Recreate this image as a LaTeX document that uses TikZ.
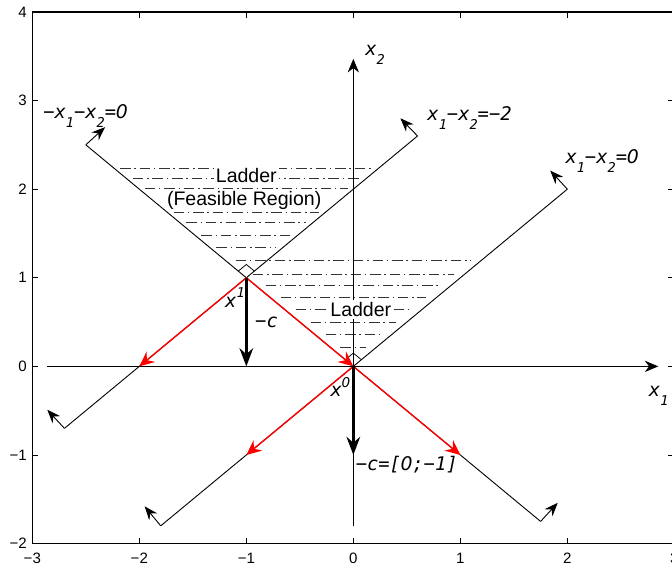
\documentclass[tikz,border=0pt]{standalone}
\usepackage{fontspec}
\setmainfont{Liberation Sans}
\newfontfamily\labfont{DejaVu Sans Mono}
\newfontfamily\zerofont{DejaVu Sans}
\usetikzlibrary{arrows.meta}
\newcommand{\lsub}[1]{\raisebox{-0.5em}{\fontsize{9}{9}\selectfont #1}}
\newcommand{\lsup}[1]{\raisebox{0.5em}{\fontsize{9}{9}\selectfont #1}}
\newcommand{\lzero}{\makebox[0.602em]{\zerofont\itshape 0}}

\begin{document}
\begin{tikzpicture}[x=2.5cm, y=2.07cm,
    lab/.style={font=\labfont\itshape\fontsize{12.5}{13}\selectfont, inner sep=0pt},
    txt/.style={font=\fontsize{13}{15}\selectfont, fill=white, inner sep=1.5pt},
    ticklab/.style={font=\fontsize{10}{12}\selectfont, inner sep=0pt},
    hatch/.style={line width=0.45pt, black!80, dash pattern=on 7pt off 2.5pt on 1pt off 2.5pt},
    cline/.style={line width=0.6pt},
    nrm/.style={line width=0.6pt, -{Stealth[length=9pt,width=7pt,inset=3pt]}},
    redarr/.style={line width=0.9pt, red, -{Stealth[length=10pt,width=9pt,inset=3.5pt]}},
    grad/.style={line width=2pt, -{Stealth[length=12pt,width=9pt]}},
    ax/.style={line width=0.5pt, -{Stealth[length=9pt,width=7.5pt]}}]
    \useasboundingbox (-3.302,-2.245) rectangle (2.978,4.135);

    \coordinate (x1) at (-1,1);
    \coordinate (x0) at (0,0);
    \coordinate (a1) at (-2.5,2.5);
    \coordinate (a2) at (1.75,-1.75);
    \coordinate (b1) at (-2.7,-0.7);
    \coordinate (b2) at (0.6,2.6);
    \coordinate (c1) at (-1.8,-1.8);
    \coordinate (c2) at (2,2);
    \coordinate (a1n) at (-2.32,2.7);
    \coordinate (a2n) at (1.91,-1.54);
    \coordinate (b1n) at (-2.86,-0.49);
    \coordinate (b2n) at (0.44,2.8);
    \coordinate (c1n) at (-1.95,-1.58);
    \coordinate (c2n) at (1.84,2.21);
    \coordinate (r1) at (-2,0);
    \coordinate (r2) at (-1,-1);
    \coordinate (r3) at (1,-1);
    \coordinate (d1) at (-1,0);
    \coordinate (d0) at (0,-1);
    \coordinate (h1) at (-2.86,0);
    \coordinate (h2) at (2.85,0);
    \coordinate (v1) at (0,-1.8);
    \coordinate (v2) at (0,3.47);

    % axes box and ticks
    \foreach \i/\t [count=\k] in {-3/−3,-2/−2,-1/−1,0/0,1/1,2/2,3/3} {
        \draw[line width=0.5pt] (\i,-2) -- ++(0,0.068);
        \draw[line width=0.5pt] (\i,4) -- ++(0,-0.068);
        \node[ticklab, anchor=north, yshift=-6.3pt] (tx\k) at (\i,-2) {\t};
    }
    \foreach \j/\t [count=\k] in {-2/−2,-1/−1,0/0,1/1,2/2,3/3,4/4} {
        \draw[line width=0.5pt] (-3,\j) -- ++(0.056,0);
        \draw[line width=0.5pt] (3,\j) -- ++(-0.056,0);
        \node[ticklab, anchor=east, xshift=-3.5pt] (ty\k) at (-3,\j) {\t};
    }
    \draw[line width=1pt] (-3,-2) rectangle (3,4);

    % ladder hatching
    \foreach \h in {0.22,0.36,0.5,0.64,0.78,0.92,1.04,1.2}
        \draw[hatch] ({-\h+0.1},\h) -- ({\h-0.1},\h);
    \foreach \h in {1.34,1.48,1.62,1.74,2.01,2.12,2.24}
        \draw[hatch] ({-\h+0.06},\h) -- ({\h-2.06},\h);

    \draw[ax] (h1) -- (h2);
    \draw[ax] (v1) -- (v2);

    \node[txt, anchor=base] (lad1) at (-1,2.075) {Ladder};
    \node[txt, anchor=base, inner sep=0.5pt] (feas) at (-1.02,1.82) {(Feasible Region)};
    \node[txt, anchor=base] (lad2) at (0.07,0.567) {Ladder};

    % constraint lines with normals
    \draw[cline] (a1) -- (a2);
    \draw[cline] (b1) -- (b2);
    \draw[cline] (c1) -- (c2);
    \draw[nrm] (a1) -- (a1n);
    \draw[nrm] (a2) -- (a2n);
    \draw[nrm] (b1) -- (b1n);
    \draw[nrm] (b2) -- (b2n);
    \draw[nrm] (c1) -- (c1n);
    \draw[nrm] (c2) -- (c2n);

    \draw[line width=0.5pt] (x1) ++(0.075,0.075) -- ++(-0.075,0.075) -- ++(-0.075,-0.075);
    \draw[line width=0.5pt] (x0) ++(0.075,0.075) -- ++(-0.075,0.075) -- ++(-0.075,-0.075);

    \draw[redarr] (x1) -- (r1);
    \draw[redarr] (x1) -- (x0);
    \draw[redarr] (x0) -- (r2);
    \draw[redarr] (x0) -- (r3);
    \draw[grad] (x1) -- (d1);
    \draw[grad] (x0) -- (d0);

    \node[lab, anchor=base west] (l1) at (-2.9,2.8) {−x\lsub{1}−x\lsub{2}=\lzero};
    \node[lab, anchor=base west] (l2) at (0.69,2.78) {x\lsub{1}−x\lsub{2}=−2};
    \node[lab, anchor=base west] (l3) at (1.98,2.29) {x\lsub{1}−x\lsub{2}=\lzero};
    \node[lab, anchor=base west] (lx2) at (0.11,3.51) {x\lsub{2}};
    \node[lab, anchor=base west] (lx1) at (2.76,-0.34) {x\lsub{1}};
    \node[lab, anchor=base west] (lp1) at (-1.2,0.67) {x\lsup{1}};
    \node[lab, anchor=base west] (lc1) at (-0.92,0.44) {−c};
    \node[lab, anchor=base west] (lp0) at (-0.215,-0.345) {x\lsup{\lzero}};
    \node[lab, anchor=base west] (lc0) at (0.02,-1.17) {−c=[\lzero;−1]};
\end{tikzpicture}
\end{document}
